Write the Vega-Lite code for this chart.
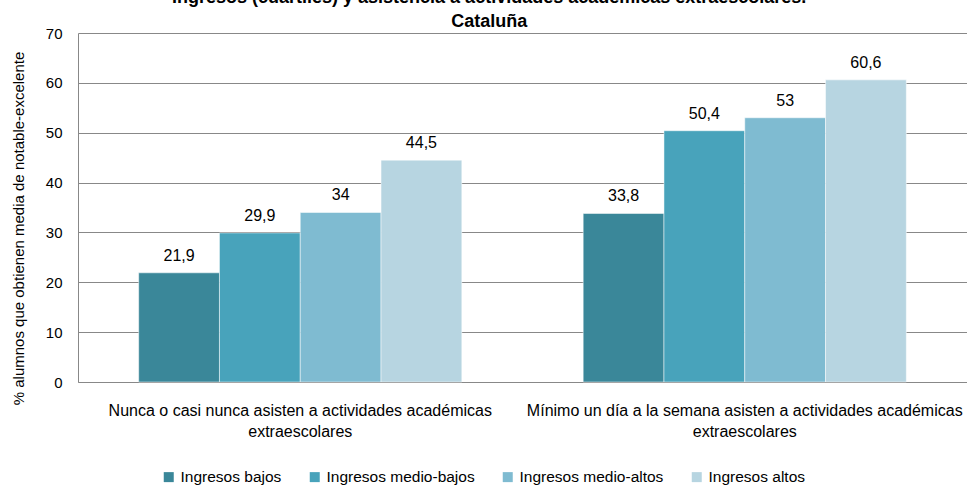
{
  "$schema": "https://vega.github.io/schema/vega-lite/v6.json",
  "autosize": "none",
  "width": 889,
  "height": 349,
  "padding": {"left": 78, "top": 33, "right": 0, "bottom": 105},
  "background": "white",
  "config": {
    "locale": {"number": {"decimal": ",", "thousands": ".", "grouping": [3], "currency": ["", " €"]}},
    "font": "Liberation Sans",
    "view": {"stroke": null}
  },
  "title": {
    "text": ["Ingresos (cuartiles) y asistencia a actividades académicas extraescolares.", "Cataluña"],
    "font": "Liberation Sans",
    "fontSize": 18,
    "fontWeight": "bold",
    "color": "#000000",
    "anchor": "middle",
    "frame": "bounds",
    "offset": -5,
    "lineHeight": 24
  },
  "data": {
    "values": [
      {"grupo": "Nunca o casi nunca asisten a actividades académicas extraescolares", "ingresos": "Ingresos bajos", "valor": 21.9},
      {"grupo": "Nunca o casi nunca asisten a actividades académicas extraescolares", "ingresos": "Ingresos medio-bajos", "valor": 29.9},
      {"grupo": "Nunca o casi nunca asisten a actividades académicas extraescolares", "ingresos": "Ingresos medio-altos", "valor": 34},
      {"grupo": "Nunca o casi nunca asisten a actividades académicas extraescolares", "ingresos": "Ingresos altos", "valor": 44.5},
      {"grupo": "Mínimo un día a la semana asisten a actividades académicas extraescolares", "ingresos": "Ingresos bajos", "valor": 33.8},
      {"grupo": "Mínimo un día a la semana asisten a actividades académicas extraescolares", "ingresos": "Ingresos medio-bajos", "valor": 50.4},
      {"grupo": "Mínimo un día a la semana asisten a actividades académicas extraescolares", "ingresos": "Ingresos medio-altos", "valor": 53},
      {"grupo": "Mínimo un día a la semana asisten a actividades académicas extraescolares", "ingresos": "Ingresos altos", "valor": 60.6}
    ]
  },
  "encoding": {
    "x": {
      "field": "grupo",
      "type": "nominal",
      "sort": null,
      "scale": {"paddingInner": 0.273, "paddingOuter": 0.1365},
      "axis": {
        "title": null,
        "labelAngle": 0,
        "labelFontSize": 16,
        "labelColor": "#000000",
        "labelFont": "Liberation Sans",
        "labelPadding": 20,
        "labelLimit": 0,
        "labelLineHeight": 21,
        "labelBaseline": "top",
        "labelExpr": "[replace(datum.label, ' extraescolares', ''), 'extraescolares']",
        "ticks": false,
        "domainColor": "#888888",
        "domainWidth": 1
      }
    },
    "xOffset": {
      "field": "ingresos",
      "type": "nominal",
      "sort": ["Ingresos bajos", "Ingresos medio-bajos", "Ingresos medio-altos", "Ingresos altos"],
      "scale": {"paddingInner": 0, "paddingOuter": 0}
    },
    "y": {
      "field": "valor",
      "type": "quantitative",
      "scale": {"domain": [0, 70], "nice": false},
      "axis": {
        "title": "% alumnos que obtienen media de notable-excelente",
        "titleFontSize": 15,
        "titleFontWeight": "normal",
        "titleColor": "#000000",
        "titleFont": "Liberation Sans",
        "titlePadding": 19,
        "titleY": 195,
        "values": [0, 10, 20, 30, 40, 50, 60, 70],
        "labelFontSize": 15,
        "labelColor": "#000000",
        "labelFont": "Liberation Sans",
        "labelPadding": 16,
        "ticks": false,
        "grid": true,
        "gridColor": "#888888",
        "gridWidth": 1,
        "domainColor": "#888888",
        "domainWidth": 1
      }
    }
  },
  "layer": [
    {
      "mark": {"type": "bar", "stroke": "white", "strokeWidth": 0.5},
      "encoding": {
        "color": {
          "field": "ingresos",
          "type": "nominal",
          "sort": ["Ingresos bajos", "Ingresos medio-bajos", "Ingresos medio-altos", "Ingresos altos"],
          "scale": {
            "domain": ["Ingresos bajos", "Ingresos medio-bajos", "Ingresos medio-altos", "Ingresos altos"],
            "range": ["#3a8799", "#48a3bb", "#7fbbd1", "#b7d5e1"]
          },
          "legend": {
            "title": null,
            "orient": "none",
            "legendX": 83,
            "legendY": 436,
            "direction": "horizontal",
            "symbolType": "square",
            "symbolSize": 100,
            "symbolStrokeWidth": 0,
            "labelFontSize": 15.5,
            "labelColor": "#000000",
            "labelFont": "Liberation Sans",
            "columnPadding": 25,
            "labelOffset": 4
          }
        }
      }
    },
    {
      "mark": {"type": "text", "baseline": "alphabetic", "dy": -12, "fontSize": 16, "color": "#000000", "font": "Liberation Sans"},
      "encoding": {
        "text": {"field": "valor", "type": "quantitative", "format": ".1~f"},
        "detail": {"field": "ingresos", "type": "nominal"}
      }
    }
  ]
}
